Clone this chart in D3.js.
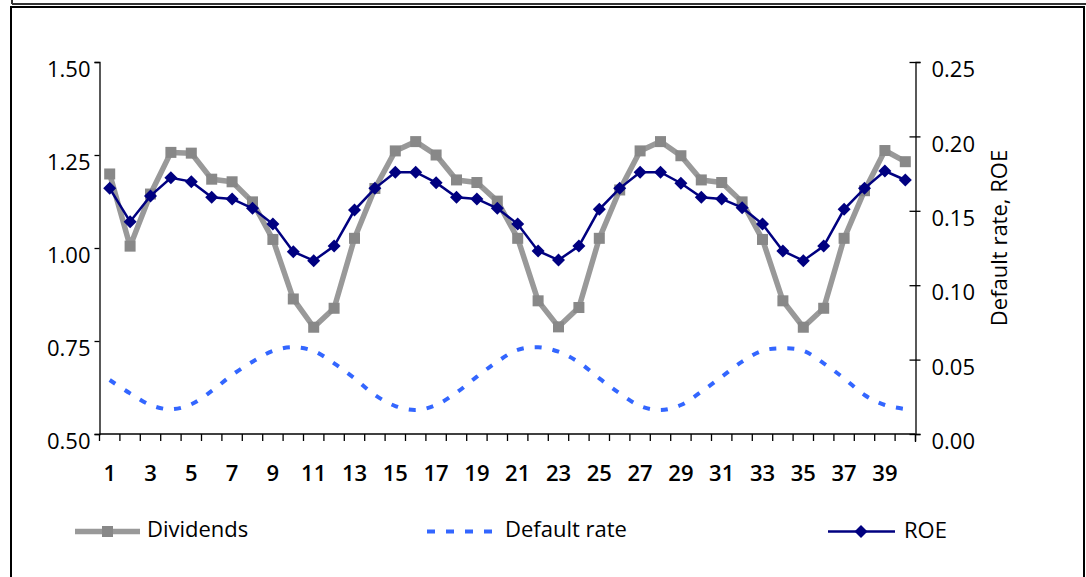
<!DOCTYPE html>
<html>
<head>
<meta charset="utf-8">
<script src="https://cdn.jsdelivr.net/npm/d3@7"></script>
<style>
  html, body { margin: 0; padding: 0; background: #fff; }
  svg { display: block; font-family: "Open Sans", sans-serif; }
</style>
</head>
<body>
<svg id="chart" width="1086" height="577"></svg>
<script>
// Periods 1..40
const periods = d3.range(1, 41);

// Dividends (left axis)
const dividends = [
  1.199, 1.005, 1.145, 1.257, 1.255, 1.185, 1.178, 1.124, 1.023, 0.863,
  0.787, 0.838, 1.026, 1.160, 1.261, 1.286, 1.250, 1.183, 1.176, 1.126,
  1.026, 0.858, 0.788, 0.840, 1.026, 1.156, 1.261, 1.286, 1.248, 1.183,
  1.176, 1.124, 1.023, 0.858, 0.787, 0.838, 1.026, 1.154, 1.262, 1.232
];

// Default rate (right axis)
const defaultRate = [
  0.0363, 0.0273, 0.0195, 0.0166, 0.0200, 0.0289, 0.0397, 0.0486, 0.0558, 0.0583,
  0.0558, 0.0475, 0.0374, 0.0262, 0.0188, 0.0161, 0.0195, 0.0278, 0.0385, 0.0486,
  0.0565, 0.0583, 0.0553, 0.0482, 0.0374, 0.0273, 0.0188, 0.0161, 0.0195, 0.0284,
  0.0385, 0.0486, 0.0560, 0.0576, 0.0560, 0.0475, 0.0374, 0.0262, 0.0195, 0.0168
];

// ROE (right axis)
const roe = [
  0.1651, 0.1427, 0.1600, 0.1722, 0.1696, 0.1591, 0.1580, 0.1517, 0.1411, 0.1225,
  0.1165, 0.1263, 0.1505, 0.1651, 0.1759, 0.1759, 0.1689, 0.1591, 0.1580, 0.1517,
  0.1411, 0.1230, 0.1169, 0.1263, 0.1510, 0.1651, 0.1759, 0.1759, 0.1685, 0.1591,
  0.1580, 0.1521, 0.1411, 0.1230, 0.1165, 0.1263, 0.1510, 0.1651, 0.1767, 0.1707
];

const leftTicks = [0.50, 0.75, 1.00, 1.25, 1.50];
const rightTicks = [0.00, 0.05, 0.10, 0.15, 0.20, 0.25];
const legendItems = ["Dividends", "Default rate", "ROE"];

const svg = d3.select("#chart");
const plot = { left: 99.5, right: 915.5, top: 62, bottom: 434 };

// Outer frame
svg.append("line").attr("x1", 12).attr("x2", 1086).attr("y1", 4).attr("y2", 4)
  .attr("stroke", "#333").attr("stroke-width", 2);
svg.append("line").attr("x1", 12).attr("x2", 12).attr("y1", 0).attr("y2", 4)
  .attr("stroke", "#333").attr("stroke-width", 2);
svg.append("rect").attr("x", 11).attr("y", 7).attr("width", 1073).attr("height", 600)
  .attr("fill", "#fff").attr("stroke", "#000").attr("stroke-width", 2);

const x = d3.scaleBand().domain(periods).range([plot.left, plot.right]).padding(0);
const yL = d3.scaleLinear().domain([0.5, 1.5]).range([plot.bottom, plot.top]);
const yR = d3.scaleLinear().domain([0, 0.25]).range([plot.bottom, plot.top]);
const cx = d => x(d) + x.bandwidth() / 2;

// Left axis
const axL = svg.append("g").attr("transform", `translate(${plot.left},0)`)
  .call(d3.axisLeft(yL).tickValues(leftTicks).tickFormat(d3.format(".2f")).tickSizeOuter(0).tickSize(5).tickPadding(4));
axL.select(".domain").attr("stroke", "#000").attr("stroke-width", 1.3);
axL.selectAll(".tick line").attr("stroke", "#000").attr("stroke-width", 1.3);
axL.selectAll(".tick text").attr("font-size", 22).attr("fill", "#000").attr("font-weight", 500)
  .attr("font-family", "Open Sans").attr("dy", "0.3em").attr("y", 8);

// Right axis
const axR = svg.append("g").attr("transform", `translate(${plot.right},0)`)
  .call(d3.axisRight(yR).tickValues(rightTicks).tickFormat(d3.format(".2f")).tickSizeOuter(0).tickSize(5).tickPadding(11));
axR.select(".domain").attr("stroke", "#000").attr("stroke-width", 1.3);
axR.selectAll(".tick line").attr("x1", -6).attr("x2", 5).attr("stroke", "#000").attr("stroke-width", 1.3);
axR.selectAll(".tick text").attr("font-size", 22).attr("fill", "#000").attr("font-weight", 500)
  .attr("font-family", "Open Sans").attr("dy", "0.3em").attr("y", 8);
axR.append("line").attr("x1", 0).attr("x2", 0).attr("y1", plot.bottom).attr("y2", plot.bottom + 8)
  .attr("stroke", "#000").attr("stroke-width", 1.3);

svg.append("text")
  .attr("transform", `translate(1007,238) rotate(-90)`)
  .attr("text-anchor", "middle").attr("font-size", 22).attr("fill", "#000")
  .text("Default rate, ROE");

// Bottom axis: labels on odd periods, ticks on category boundaries
const axB = svg.append("g").attr("transform", `translate(0,${plot.bottom})`)
  .call(d3.axisBottom(x).tickValues(periods.filter(p => p % 2 === 1)).tickSize(0).tickSizeOuter(0).tickPadding(31));
axB.select(".domain").attr("stroke", "#000").attr("stroke-width", 1.3).attr("d", `M${plot.left},0H${plot.right}`);
axB.selectAll(".tick text").attr("font-size", 22).attr("fill", "#000").attr("font-weight", 600).attr("font-family", "Open Sans");
const boundaries = periods.map(p => x(p)).concat([x(periods[periods.length - 1]) + x.bandwidth()]);
axB.selectAll("line.bound").data(boundaries).join("line").attr("class", "bound")
  .attr("x1", d => d).attr("x2", d => d).attr("y1", 0).attr("y2", 7)
  .attr("stroke", "#000").attr("stroke-width", 1.3);

// Dividends series
const divLine = d3.line().x((d, i) => cx(periods[i])).y(d => yL(d));
svg.append("path").datum(dividends).attr("d", divLine)
  .attr("fill", "none").attr("stroke", "#999999").attr("stroke-width", 5.5).attr("stroke-linejoin", "round");
svg.append("g").selectAll("rect").data(dividends).join("rect")
  .attr("x", (d, i) => cx(periods[i]) - 5.5).attr("y", d => yL(d) - 5.5)
  .attr("width", 11).attr("height", 11).attr("fill", "#888888");

// Default rate series (smoothed, dotted)
const drLine = d3.line().curve(d3.curveCatmullRom.alpha(0.5))
  .x((d, i) => cx(periods[i])).y(d => yR(d));
svg.append("path").datum(defaultRate).attr("d", drLine)
  .attr("fill", "none").attr("stroke", "#3366ff").attr("stroke-width", 4)
  .attr("stroke-dasharray", "7,11");

// ROE series
const roeLine = d3.line().x((d, i) => cx(periods[i])).y(d => yR(d));
svg.append("path").datum(roe).attr("d", roeLine)
  .attr("fill", "none").attr("stroke", "#000080").attr("stroke-width", 2.5);
const diamond = s => `M0,${-s}L${s},0L0,${s}L${-s},0Z`;
svg.append("g").selectAll("path").data(roe).join("path")
  .attr("transform", (d, i) => `translate(${cx(periods[i])},${yR(d)})`)
  .attr("d", diamond(6.5)).attr("fill", "#000080");

// Legend
const legendY = 531.5;
const lg = svg.append("g");
// Dividends
lg.append("line").attr("x1", 75).attr("x2", 140).attr("y1", legendY).attr("y2", legendY)
  .attr("stroke", "#999999").attr("stroke-width", 5.5);
lg.append("rect").attr("x", 107.5 - 5.5).attr("y", legendY - 5.5).attr("width", 11).attr("height", 11).attr("fill", "#888888");
lg.append("text").attr("x", 147).attr("y", legendY + 5).attr("font-size", 22).attr("fill", "#000").text(legendItems[0]);
// Default rate
lg.append("line").attr("x1", 427).attr("x2", 492).attr("y1", legendY).attr("y2", legendY)
  .attr("stroke", "#3366ff").attr("stroke-width", 4).attr("stroke-dasharray", "8,11");
lg.append("text").attr("x", 505).attr("y", legendY + 5).attr("font-size", 22).attr("fill", "#000").text(legendItems[1]);
// ROE
lg.append("line").attr("x1", 828).attr("x2", 895).attr("y1", legendY).attr("y2", legendY)
  .attr("stroke", "#000080").attr("stroke-width", 2.5);
lg.append("path").attr("transform", `translate(861,${legendY})`).attr("d", diamond(6.5)).attr("fill", "#000080");
lg.append("text").attr("x", 904).attr("y", legendY + 6).attr("font-size", 22).attr("fill", "#000").text(legendItems[2]);
</script>
</body>
</html>
